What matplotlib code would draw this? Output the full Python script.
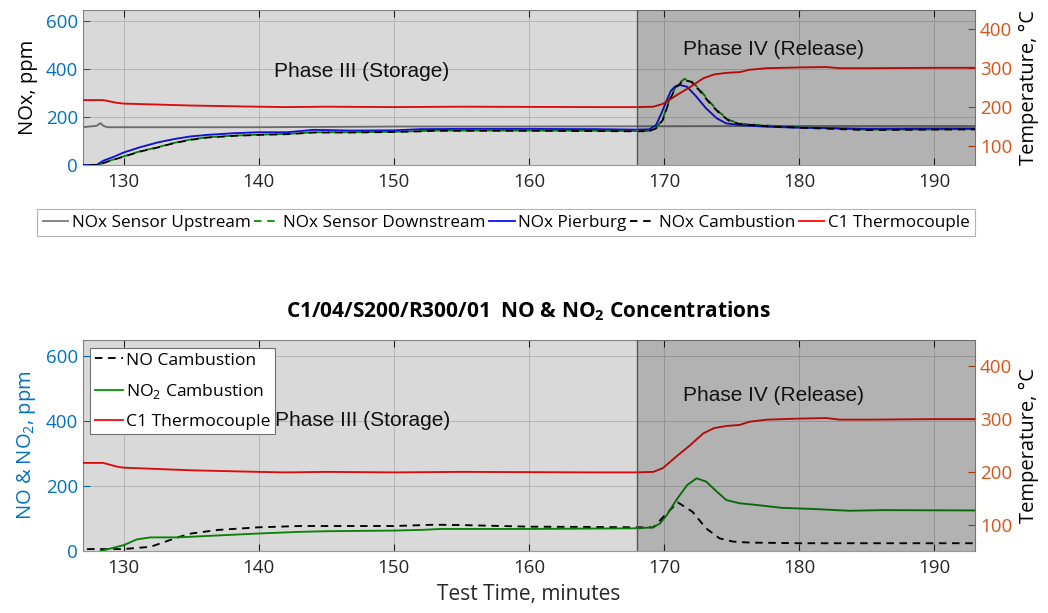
import matplotlib
matplotlib.use("Agg")
import matplotlib.pyplot as plt
from matplotlib.lines import Line2D

# ---------------- data ----------------
xlim = (127, 193)
phase_split = 168

t_tc = [127, 128.5, 129.5, 130, 132, 135, 140, 142, 145, 150, 155, 160, 165, 168,
        169.2, 169.9, 170.9, 171.9, 172.9, 173.7, 174.6, 175.6, 176.3, 177.6, 180,
        182, 183, 185, 190, 193]
tc = [217, 217, 210, 208, 206, 203, 200, 199, 200, 199, 200, 199.5, 199, 199,
      200, 207, 229, 250, 273, 283, 287, 289, 295, 299, 301, 302, 299, 299, 300, 300]

t_up = [127, 128.0, 128.3, 128.5, 128.8, 140, 148, 150, 160, 170, 180, 193]
nox_up = [158, 164, 175, 164, 158, 158, 160, 161, 161, 162, 163, 163]

t_pb = [127, 128.0, 128.5, 129.3, 130, 131.2, 132.5, 133.7, 134.9, 136.2, 138.2, 140,
        142.1, 144.1, 146.8, 150, 152, 155, 160, 165, 168, 168.9, 169.4, 169.8,
        170.2, 170.5, 170.8, 171.2, 171.7, 172.4, 173.1, 173.9, 174.6, 175.6, 177.6,
        180, 185, 190, 193]
nox_pb = [0, 0, 18, 35, 52, 74, 94, 108, 119, 126, 133, 137, 137, 147, 144, 145, 150,
          151, 151, 150, 148, 149, 167, 216, 271, 310, 328, 334, 327, 285, 237, 195,
          174, 167, 160, 156, 152, 153, 153]

t_cb = [127, 128.1, 128.8, 130, 131.2, 132.5, 133.7, 134.9, 136.2, 138.2, 140, 142.1,
        144.1, 146.8, 150, 152, 153, 160, 165, 168, 168.9, 169.4, 169.9, 170.4,
        170.9, 171.5, 172.0, 172.6, 173.4, 174.1, 174.8, 175.6, 177.6, 180, 185,
        190, 193]
nox_cb = [0, 0, 14, 35, 56, 73, 91, 105, 115, 122, 126, 129, 136, 136, 138, 141, 143,
          143, 142, 141, 142, 153, 188, 271, 327, 355, 348, 313, 257, 216, 185, 171,
          163, 156, 146, 148, 149]
nox_dn = [0, 0, 15, 36, 57, 74, 92, 106, 116, 123, 127, 130, 137, 137, 139, 142, 144,
          144, 143, 142, 143, 155, 192, 275, 332, 360, 352, 318, 262, 220, 188, 173,
          165, 158, 148, 149, 150]

t_no = [127.3, 128.5, 130, 132, 134, 135, 137, 140, 143, 150, 153, 155, 160, 165, 168,
        169.2, 170.2, 171.0, 172.1, 173.1, 174.1, 175.1, 176.3, 180, 193]
no_cb = [6, 6, 6, 13, 42, 54, 65, 73, 77, 77, 81, 80, 75, 74, 73,
         73, 116, 150, 121, 70, 39, 29, 26, 24, 24]

t_no2 = [128.3, 130, 131, 132, 134, 135, 137, 140, 143, 145, 150, 152, 153.5, 160, 168,
         169.2, 169.7, 170.2, 170.9, 171.7, 172.4, 173.1, 173.9, 174.6, 175.6, 176.8,
         178.7, 181.3, 183.7, 186.2, 193]
no2_cb = [0, 18, 36, 42, 42, 44, 48, 54, 59, 61, 63, 65, 68, 68, 70,
          73, 85, 111, 157, 203, 224, 214, 183, 157, 147, 142,
          133, 129, 124, 126, 125]

xticks = [130, 140, 150, 160, 170, 180, 190]
yticks_left = [0, 200, 400, 600]
yticks_right = [100, 200, 300, 400]

# ---------------- style ----------------
plt.rcParams['font.family'] = ['Open Sans', 'DejaVu Sans']
plt.rcParams['mathtext.fontset'] = 'custom'
plt.rcParams['mathtext.rm'] = 'Open Sans'
plt.rcParams['mathtext.bf'] = 'Open Sans:bold'

BLUE_T = '#0072BD'
ORANGE_T = '#D95319'
RED = '#ff1010'
GREEN = '#0a9a0a'
GRAY = '#808080'
TXT = '#262626'
LW = 1.35
DASH = (0, (4, 3))

fig = plt.figure(figsize=(10.48, 6.13), dpi=100)
ax1 = fig.add_axes([0.0792, 0.7308, 0.8511, 0.2537])
ax2 = fig.add_axes([0.0792, 0.1011, 0.8511, 0.3443])


def style_axes(ax):
    ax.set_xlim(*xlim)
    ax.set_ylim(0, 650)
    ax.set_xticks(xticks)
    ax.set_yticks(yticks_left)
    ax.grid(True, color='#d0d0d0', lw=0.6)
    ax.set_axisbelow(True)
    ax.tick_params(axis='x', direction='in', top=True, length=5, colors=TXT,
                   labelsize=13.5, pad=6, width=0.8)
    ax.tick_params(axis='x', labelcolor=TXT)
    ax.tick_params(axis='y', direction='in', length=5, color=BLUE_T,
                   labelcolor=BLUE_T, labelsize=13.5, width=0.8)
    for s in ['top', 'bottom', 'left']:
        ax.spines[s].set_color('#9a9a9a')
    ax.spines['right'].set_visible(False)
    axr = ax.twinx()
    axr.set_ylim(50, 450)
    axr.set_yticks(yticks_right)
    axr.tick_params(axis='y', direction='in', length=5, color=ORANGE_T,
                    labelcolor=ORANGE_T, labelsize=13.5, width=0.8)
    axr.spines['right'].set_color(ORANGE_T)
    for s in ['top', 'bottom', 'left']:
        axr.spines[s].set_visible(False)
    axr.set_ylabel('Temperature, °C', fontsize=14.5, color='black', labelpad=5)
    return axr


def shade(axr):
    axr.axvspan(xlim[0], phase_split, color='black', alpha=0.15, lw=0, zorder=5)
    axr.axvspan(phase_split, xlim[1], color='black', alpha=0.30, lw=0, zorder=5)
    axr.axvline(phase_split, color='#555555', lw=1.0, zorder=6)


# ---------------- top panel ----------------
ax1r = style_axes(ax1)
ax1.plot(t_up, nox_up, color=GRAY, lw=LW, zorder=2)
ax1.plot(t_cb, nox_dn, color=GREEN, lw=LW, ls=DASH, zorder=3)
ax1.plot(t_pb, nox_pb, color='#1515ff', lw=LW, zorder=3)
ax1.plot(t_cb, nox_cb, color='black', lw=LW, ls=(3.5, (4, 3)), zorder=3)
ax1r.plot(t_tc, tc, color=RED, lw=LW, zorder=3)
shade(ax1r)
ax1.set_ylabel('NOx, ppm', fontsize=14.5, color='black', labelpad=6)
ax1r.text(147.6, 50 + 390 * 400 / 650, 'Phase III (Storage)', ha='center', va='center',
          fontsize=15, family='Liberation Sans', color='#111111', zorder=8)
ax1r.text(178.1, 50 + 482 * 400 / 650, 'Phase IV (Release)', ha='center', va='center',
          fontsize=15, family='Liberation Sans', color='#111111', zorder=8)

handles = [
    Line2D([], [], color=GRAY, lw=LW),
    Line2D([], [], color=GREEN, lw=LW, ls=DASH),
    Line2D([], [], color='#1515ff', lw=LW),
    Line2D([], [], color='black', lw=LW, ls=DASH),
    Line2D([], [], color=RED, lw=LW),
]
labels = ['NOx Sensor Upstream', 'NOx Sensor Downstream', 'NOx Pierburg',
          'NOx Cambustion', 'C1 Thermocouple']
leg = fig.legend(handles, labels, loc='center', bbox_to_anchor=(0.4828, 0.637),
                 ncol=5, frameon=True, fancybox=False, edgecolor='#a0a0a0',
                 handlelength=1.5, handletextpad=0.2,
                 columnspacing=0.2, borderpad=0.35,
                 prop={'family': ['Open Sans'], 'size': 12.3})
leg.get_frame().set_linewidth(0.8)

# ---------------- bottom panel ----------------
ax2r = style_axes(ax2)
ax2.plot(t_no, no_cb, color='black', lw=LW, ls=DASH, zorder=3)
ax2.plot(t_no2, no2_cb, color=GREEN, lw=LW, zorder=3)
ax2r.plot(t_tc, tc, color=RED, lw=LW, zorder=3)
shade(ax2r)
ax2.set_ylabel('NO & NO$_2$, ppm', fontsize=14.5, color=BLUE_T, labelpad=6)
ax2.set_xlabel('Test Time, minutes', fontsize=15, color=TXT, labelpad=5)
ax2r.text(147.7, 50 + 403 * 400 / 650, 'Phase III (Storage)', ha='center', va='center',
          fontsize=15, family='Liberation Sans', color='#111111', zorder=8)
ax2r.text(178.1, 50 + 480 * 400 / 650, 'Phase IV (Release)', ha='center', va='center',
          fontsize=15, family='Liberation Sans', color='#111111', zorder=8)
leg2 = ax2r.legend([Line2D([], [], color='black', lw=LW, ls=DASH),
                    Line2D([], [], color=GREEN, lw=LW),
                    Line2D([], [], color=RED, lw=LW)],
                   ['NO Cambustion', 'NO$_2$ Cambustion', 'C1 Thermocouple'],
                   loc='upper left', bbox_to_anchor=(0.008, 0.962), frameon=True,
                   fancybox=False, edgecolor='#707070', framealpha=1, fontsize=12.6,
                   handlelength=1.6, handletextpad=0.2, borderpad=0.25,
                   labelspacing=0.75, borderaxespad=0)
leg2.set_zorder(10)
leg2.get_frame().set_linewidth(0.8)

fig.text(0.5045, 1 - 311 / 613, r'C1/04/S200/R300/01  NO & NO$_\mathbf{2}$ Concentrations',
         ha='center', va='center', fontsize=15, fontweight='bold', color='black')

fig.savefig('out.png', dpi=100)
